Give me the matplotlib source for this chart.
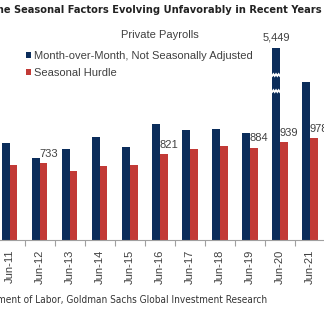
import numpy as np
import matplotlib
matplotlib.use('Agg')
import matplotlib.pyplot as plt
from matplotlib.patches import Patch

plt.rcParams['font.family'] = ['Liberation Sans', 'DejaVu Sans']

# 数据
categories = ['Jun-11', 'Jun-12', 'Jun-13', 'Jun-14', 'Jun-15', 'Jun-16',
              'Jun-17', 'Jun-18', 'Jun-19', 'Jun-20', 'Jun-21']
mom_nsa = [924, 787, 870, 982, 892, 1109, 1051, 1061, 1020, 5449, 1506]
seasonal_hurdle = [717, 733, 660, 708, 717, 821, 870, 899, 884, 939, 978]
labelled = ['Jun-12', 'Jun-16', 'Jun-19', 'Jun-20', 'Jun-21']

navy = '#0b2d5b'
red = '#c23a36'
text_gray = '#404040'

W, H = 324, 326
fig = plt.figure(figsize=(W / 100, H / 100), dpi=100)
fig.patch.set_facecolor('white')

base_px, top_px = 240.2, 48
ax = fig.add_axes([-5.5 / W, (H - base_px) / H, 330.5 / W, (base_px - top_px) / H])

x = np.arange(len(categories))
width = 0.26
ymax = 1834

ax.bar(x - width / 2, mom_nsa, width, color=navy, edgecolor='none')
ax.bar(x + width / 2, seasonal_hurdle, width, color=red, edgecolor='none')

ax.set_xlim(-0.5, len(categories) - 0.5)
ax.set_ylim(0, ymax)

# 轴样式
for s in ['top', 'right', 'left']:
    ax.spines[s].set_visible(False)
ax.spines['bottom'].set_color('#a0a0a0')
ax.spines['bottom'].set_linewidth(0.8)
ax.set_yticks([])
ax.set_xticks(x)
ax.set_xticklabels(categories, rotation=90, fontsize=8, color=text_gray)
ax.tick_params(axis='x', which='major', length=0, pad=7)
ax.set_xticks(x[:-1] + 0.5, minor=True)
ax.tick_params(axis='x', which='minor', length=4, color='#a0a0a0', width=0.8, direction='out')

# 红柱数值标签
for i, cat in enumerate(categories):
    if cat in labelled:
        ax.annotate(f'{seasonal_hurdle[i]:,}', xy=(i, seasonal_hurdle[i]),
                    xytext=(0, 3), textcoords='offset points',
                    ha='left', va='bottom', fontsize=8, color=text_gray,
                    annotation_clip=False)

# 截断柱及其数值
big = int(np.argmax(mom_nsa))
ax.annotate(f'{mom_nsa[big]:,}', xy=(big - width / 2, ymax), xytext=(0, 4),
            textcoords='offset points', ha='center', va='bottom',
            fontsize=8, color=text_gray, annotation_clip=False)
for yb in [1576, 1423]:
    xs = np.linspace(big - width, big, 7)
    ys = yb + np.array([0, 18, 0, 18, 0, 18, 0]) - 9
    ax.plot(xs, ys, color='white', lw=1.3, solid_joinstyle='miter')

# 图例
handles = [Patch(facecolor=navy, edgecolor='none'), Patch(facecolor=red, edgecolor='none')]
fig.legend(handles, ['Month-over-Month, Not Seasonally Adjusted', 'Seasonal Hurdle'],
           loc='upper left', bbox_to_anchor=(20 / W, 1 - 45 / H), frameon=False,
           fontsize=8, handlelength=0.45, handleheight=0.45, handletextpad=0.35,
           labelspacing=0.7, labelcolor=text_gray, borderpad=0)
fig.text(160 / W, 1 - 35 / H, 'Private Payrolls', ha='center', va='center',
         fontsize=8, color=text_gray)

# 标题与来源
fig.text(322 / W, 1 - 10 / H, 'the Seasonal Factors Evolving Unfavorably in Recent Years',
         ha='right', va='center', fontsize=7.95, fontweight='bold',
         family='DejaVu Sans', fontstretch='condensed', color='#222222')
fig.text(267 / W, 1 - 300 / H,
         'Source: Department of Labor, Goldman Sachs Global Investment Research',
         ha='right', va='center', fontsize=7.2,
         family='DejaVu Sans', fontstretch='condensed', color='#333333')

fig.savefig('out.png', dpi=100, facecolor='white')
